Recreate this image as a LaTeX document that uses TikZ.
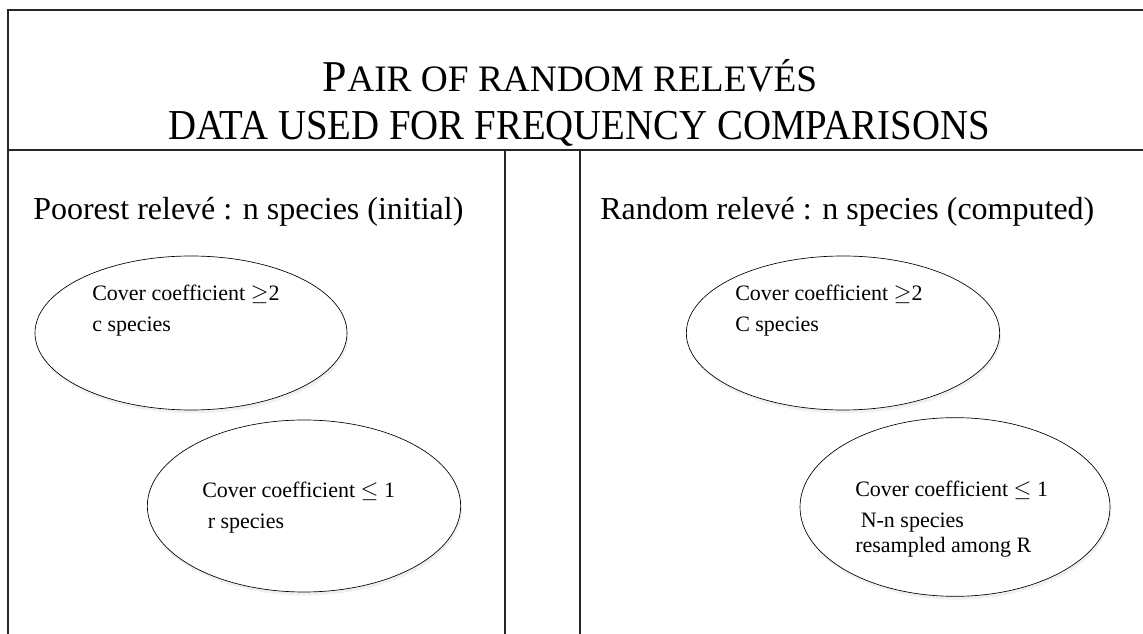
\documentclass[tikz,border=0pt]{standalone}
\usepackage{fontspec}
\setmainfont{Liberation Serif}
\usetikzlibrary{shapes.geometric,shadows}

\begin{document}
\begin{tikzpicture}[x=0.75pt, y=-0.75pt,
    frame/.style = {draw=black!85, line width=1.1pt},
    divider/.style = {draw=black!85, line width=0.9pt},
    group/.style = {shape=ellipse, draw, inner sep=0pt, line width=0.5pt,
        fill=white, drop shadow={shadow xshift=1pt, shadow yshift=-2.5pt,
        opacity=0.12}},
    coeff/.style = {anchor=north west, align=left, inner sep=0pt,
        font=\fontsize{16.5}{23}\selectfont},
    panel/.style = {anchor=west, inner sep=0pt,
        font=\fontsize{24}{28}\selectfont}]
    \useasboundingbox (0,0) rectangle (1143,634);
    % frame, header line and the two inner borders
    \draw[frame] (8,660) -- (8,10) -- (1160,10);
    \draw[frame] (8,150) -- (1160,150);
    \draw[divider] (505,150) -- (505,660);
    \draw[divider] (580,150) -- (580,660);
    % header
    \node (title) at (570,76) {\fontsize{33}{37}\selectfont P%
        \fontsize{28}{32}\selectfont AIR OF RANDOM RELEVÉS};
    \node[xscale=0.91] (subtitle) at (579,129)
        {\fontsize{32}{36}\selectfont DATA USED FOR FREQUENCY COMPARISONS};
    % the two releves
    \node[panel] (poorest) at (33,212) {Poorest relevé : n species (initial)};
    \node[panel] (random) at (600,212) {Random relevé : n species (computed)};
    \node[group, minimum width=234pt, minimum height=115.5pt] (covhigh) at (191,333) {};
    \node[group, minimum width=235pt, minimum height=129pt] (covlow) at (304,506) {};
    \node[group, minimum width=235pt, minimum height=115.5pt] (rndhigh) at (843,333) {};
    \node[group, minimum width=232.5pt, minimum height=134pt] (rndlow) at (955,507) {};
    \node[coeff] (covhightxt) at (92,285) {Cover coefficient $\geq$2\\c species};
    \node[coeff] (covlowtxt) at (202,482) {Cover coefficient $\leq$ 1\\\ r species};
    \node[coeff] (rndhightxt) at (735,285) {Cover coefficient $\geq$2\\C species};
    \node[coeff] (rndlowtxt) at (855,481)
        {Cover coefficient $\leq$ 1\\\ N-n species\\[-4.5pt]resampled among R};
\end{tikzpicture}
\end{document}
